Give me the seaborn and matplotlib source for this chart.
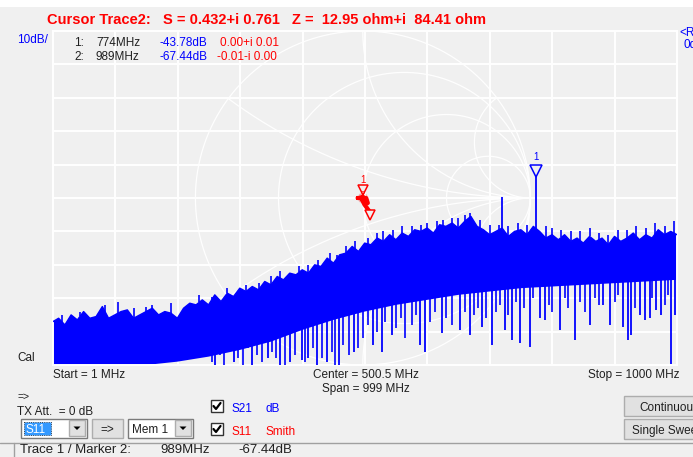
import numpy as np
import pandas as pd
import matplotlib.pyplot as plt
import seaborn as sns
from matplotlib.patches import Rectangle, Polygon

# S21 trace (dB): top of the noisy trace every 10 MHz
freq_mhz = [1] + list(range(10, 1001, 10))
upper_db = [-87, -86, -88, -85, -86.5, -84, -86, -85.5, -82.5, -86,
            -85, -84, -83.5, -86, -85, -84, -83, -85, -84, -84.5,
            -86, -83, -81.5, -82, -80.5, -82, -79, -81, -78.5, -79.5,
            -77, -78, -76.5, -77.5, -75, -76, -73.5, -74.5, -72.5, -73,
            -71.5, -72.5, -70, -70.5, -68, -69.5, -67, -66.5, -64.5, -66,
            -63.5, -64, -62, -63, -61, -62.5, -60.5, -61.5, -59.5, -60,
            -59, -60.5, -58, -58.5, -57.5, -59, -57, -55.5, -58.5, -59.5,
            -61, -60, -59, -61.5, -60, -59.5, -61, -58.5, -60, -62,
            -61, -62.5, -61, -63, -62, -63.5, -61.5, -63, -62, -64,
            -61.5, -63, -62, -60.5, -62.5, -61, -62, -59.5, -61, -60, -61]

# lower edge of the solid part of the trace, every 50 MHz
floor_f = list(range(0, 1001, 50))
floor_db = [-100, -100, -100, -100, -99, -97.5, -95.5, -93, -89.5, -86.5, -84,
            -82, -80.5, -79, -78, -77, -76.5, -76, -75.5, -75, -74.5]

# short peaks above the envelope
peak_f = [15, 45, 85, 105, 130, 150, 160, 190, 235, 255, 280, 310, 330, 350, 365,
          395, 410, 425, 445, 455, 470, 485, 505, 520, 530, 545, 560, 575, 590, 600,
          615, 625, 640, 650, 660, 668, 685, 700, 715, 730, 745, 760, 790, 800, 815,
          830, 845, 860, 875, 890, 905, 920, 935, 950, 965, 980, 995]
peak_db = [-85, -84, -82, -81, -83, -82.5, -82, -81.5, -79, -79.5, -77, -76, -75.5,
           -73.5, -72, -70.5, -70, -68.5, -66.5, -67, -64.5, -63, -62, -60.5, -60,
           -59.5, -58.5, -58.5, -58, -57.5, -57, -56.5, -56, -56, -55, -54.5, -56.5,
           -58, -58, -58.5, -57.5, -58, -58.5, -59, -59.5, -60, -60, -59, -60.5, -61,
           -59.5, -59.5, -58.5, -59, -57.5, -58.5, -57]

# deep dips below the solid part
dip_f = [260, 290, 320, 345, 365, 380, 399, 410, 424, 440, 459, 483, 514, 527,
         543, 588, 597, 624, 652, 668, 688, 704, 724, 736, 749, 764, 780, 788,
         812, 836, 860, 881, 892, 913, 921, 927, 940, 948, 956, 967, 975, 991, 997]
dip_db = [-100, -99, -100, -98, -100, -99, -98.5, -98, -100, -99, -100, -96, -94,
          -96, -91, -94, -96, -90.5, -89.5, -91, -88.5, -94, -89.5, -92.5, -93.5,
          -94.5, -86, -86.5, -89.5, -92.5, -88, -82, -88, -88.5, -92.5, -91, -85,
          -86.5, -86, -83.5, -85, -99.7, -85]

# shorter dips that make the ragged lower edge
short_f = [255, 268, 275, 283, 297, 305, 313, 327, 335, 352, 358, 372, 388, 405,
           417, 432, 447, 452, 466, 475, 490, 498, 505, 520, 533, 550, 558, 565,
           575, 582, 605, 612, 630, 640, 660, 675, 682, 695, 710, 716, 730, 742,
           755, 770, 795, 800, 820, 826, 845, 852, 868, 875, 900, 906, 933, 960, 980, 985]
short_db = [-99, -97, -100, -96, -98, -100, -95, -97, -99, -96, -98, -100, -97, -99,
            -95, -98, -96, -100, -94, -97, -95, -92, -88, -90, -87, -89, -86, -92,
            -88, -85, -87, -84, -86, -88, -84, -85, -83, -86, -84, -82, -85, -81,
            -83, -80, -82, -84, -80, -83, -81, -84, -80, -82, -81, -79, -83, -80, -82, -79]

# single spur and marker 1
spur_f, spur_db = 720, -49.7
m1_f, m1_db = 774, -43.78

# S11 trace (reflection coefficient), all near the centre of the Smith chart
s11_re = [0.00, -0.02, -0.03, -0.02, 0.00, 0.02, 0.03, 0.02, 0.00, -0.01, 0.01, 0.03, 0.04, 0.05]
s11_im = [0.02, 0.02, 0.00, -0.02, -0.03, -0.02, 0.00, 0.02, 0.03, 0.00, -0.04, -0.06, -0.08, -0.09]

BLUE = '#0000ff'
RED = '#ff0000'
BG = '#f0f0f0'

sns.set_theme(style='darkgrid', rc={'axes.facecolor': BG, 'figure.facecolor': BG,
                                    'grid.color': 'white', 'grid.linewidth': 1.4})
plt.rcParams['font.family'] = ['Liberation Sans', 'DejaVu Sans']

fig = plt.figure(figsize=(6.93, 4.57), dpi=100)
ax = fig.add_axes([53 / 693, (457 - 365) / 457, 624 / 693, 334 / 457])
ax.set_xlim(1, 1000)
ax.set_ylim(-100, 0)
ax.set_xticks(np.linspace(1, 1000, 11))
ax.set_yticks(np.arange(-100, 1, 10))
ax.tick_params(labelbottom=False, labelleft=False, length=0)
ax.set_xlabel('')
ax.set_ylabel('')
for s in ax.spines.values():
    s.set_visible(True)
    s.set_color('white')
    s.set_linewidth(1.4)

# Smith chart grid, mapped into the dB plot
cx, cy, rx, ry = 497, -50, 268, 50


def sm(g):
    return cx + rx * g.real, cy + ry * g.imag


t = np.linspace(-np.pi / 2 + 1e-3, np.pi / 2 - 1e-3, 800)
kw = dict(color='white', lw=0.9, alpha=0.95, zorder=1)
for r in [0, 0.33, 1, 3]:
    z = r + 1j * np.tan(t)
    x, y = sm((z - 1) / (z + 1))
    ax.plot(x, y, **kw)
tp = np.linspace(0, np.pi / 2 - 1e-3, 600)
for xr in [0.33, 1, 3, -0.33, -1, -3]:
    z = np.tan(tp) + 1j * xr
    x, y = sm((z - 1) / (z + 1))
    ax.plot(x, y, **kw)

# S21 trace
ax.fill(np.r_[freq_mhz, floor_f[::-1]], np.r_[upper_db, floor_db[::-1]],
        color=BLUE, lw=0, zorder=2)
sns.lineplot(x=freq_mhz, y=upper_db, ax=ax, color=BLUE, lw=1, zorder=3)
ax.vlines(peak_f, np.interp(peak_f, freq_mhz, upper_db), peak_db, color=BLUE, lw=1.2, zorder=3)
ax.vlines(dip_f, dip_db, np.interp(dip_f, floor_f, floor_db) + 2, color=BLUE, lw=1.3, zorder=3)
ax.vlines(short_f, short_db, np.interp(short_f, floor_f, floor_db) + 2, color=BLUE, lw=1.2, zorder=3)
ax.vlines([spur_f, m1_f], [-62, -62], [spur_db, m1_db], color=BLUE, lw=1.3, zorder=3)

# marker 1 on S21
ax.plot(m1_f, m1_db + 1.8, marker='v', ms=8, mfc=BG, mec=BLUE, mew=1.1, zorder=5)
ax.text(m1_f, m1_db + 4.5, '1', color=BLUE, fontsize=7, ha='center', va='bottom', zorder=5)

# S11 trace on the Smith chart
g = np.array(s11_re) + 1j * np.array(s11_im)
sx, sy = sm(g)
sns.lineplot(x=sx, y=sy, ax=ax, sort=False, color=RED, lw=3, zorder=4)
mx, my = sm(np.array([0.0 + 0.045j, 0.04 - 0.10j]))
ax.plot(mx[0], my[0], marker='v', ms=7, mfc=BG, mec=RED, mew=1.1, zorder=5)
ax.plot(mx[1], my[1], marker='v', ms=7, mfc=BG, mec=RED, mew=1.1, zorder=5)
ax.text(mx[0], my[0] + 1.6, '1', color=RED, fontsize=7, ha='center', va='bottom', zorder=5)
ax.text(mx[0], my[0] - 1.2, '2', color=RED, fontsize=5.5, ha='center', va='center', zorder=5)

# window furniture, in pixel coordinates
ui = fig.add_axes([0, 0, 1, 1], facecolor='none')
ui.set_xlim(0, 693)
ui.set_ylim(457, 0)
ui.axis('off')

ui.add_patch(Rectangle((0, 0), 693, 7, color='white', lw=0))

ui.text(47, 24, 'Cursor Trace2:', color=RED, fontsize=10.5, fontweight='bold')
ui.text(163, 24, 'S = 0.432+i 0.761', color=RED, fontsize=10.5, fontweight='bold')
ui.text(292, 24, 'Z =  12.95 ohm+i  84.41 ohm', color=RED, fontsize=10.5, fontweight='bold')

fs = 8.5
ui.text(17, 43, '10dB/', color=BLUE, fontsize=fs)
ui.text(74, 46, '1:', color='#202020', fontsize=fs)
ui.text(96, 46, '774MHz', color='#202020', fontsize=fs)
ui.text(160, 46, '-43.78dB', color=BLUE, fontsize=fs)
ui.text(220, 46, '0.00+i 0.01', color=RED, fontsize=fs)
ui.text(74, 60, '2:', color='#202020', fontsize=fs)
ui.text(96, 60, '989MHz', color='#202020', fontsize=fs)
ui.text(160, 60, '-67.44dB', color=BLUE, fontsize=fs)
ui.text(217, 60, '-0.01-i 0.00', color=RED, fontsize=fs)
ui.text(679, 36, '<Ref', color=BLUE, fontsize=fs)
ui.text(683, 48, '0dB', color=BLUE, fontsize=fs)
ui.text(17, 361, 'Cal', color='#202020', fontsize=fs)

ui.text(53, 378, 'Start = 1 MHz', color='#202020', fontsize=fs)
ui.text(419, 378, 'Center = 500.5 MHz', color='#202020', fontsize=fs, ha='right')
ui.text(410, 392, 'Span = 999 MHz', color='#202020', fontsize=fs, ha='right')
ui.text(679, 378, 'Stop = 1000 MHz', color='#202020', fontsize=fs, ha='right')

ui.text(17, 400, '=>', color='#202020', fontsize=7.5)
ui.text(17, 415, 'TX Att.  = 0 dB', color='#202020', fontsize=fs)


def arrow_btn(x0, y0):
    ui.add_patch(Rectangle((x0, y0), 16, 16, facecolor='#e1e1e1', edgecolor='#adadad', lw=1))
    xc, yc = x0 + 8, y0 + 8
    ui.add_patch(Polygon([(xc - 3.5, yc - 1.5), (xc + 3.5, yc - 1.5), (xc, yc + 2)],
                         color='black', lw=0))


def check_box(x0, y0):
    ui.add_patch(Rectangle((x0, y0), 12, 12, facecolor='white', edgecolor='#333333', lw=1))
    ui.plot([x0 + 2.5, x0 + 5, x0 + 9.5], [y0 + 6, y0 + 9, y0 + 3], color='black', lw=1.6)


# S11 combo
ui.add_patch(Rectangle((21, 419), 66, 19, facecolor='white', edgecolor='#7a7a7a', lw=1))
ui.add_patch(Rectangle((24, 422), 27, 13, facecolor='#3399ff', edgecolor='#1a1a1a', lw=0.6, ls=':'))
ui.text(26, 433, 'S11', color='white', fontsize=fs)
arrow_btn(69, 420)
# => button
ui.add_patch(Rectangle((92, 419), 31, 19, facecolor='#e1e1e1', edgecolor='#adadad', lw=1))
ui.text(107.5, 433, '=>', color='#202020', fontsize=fs, ha='center')
# Mem 1 combo
ui.add_patch(Rectangle((128, 419), 65, 19, facecolor='white', edgecolor='#7a7a7a', lw=1))
ui.text(132, 433, 'Mem 1', color='#202020', fontsize=fs)
arrow_btn(175, 420)

check_box(211, 400)
ui.text(231, 412, 'S21', color=BLUE, fontsize=fs)
ui.text(266, 412, 'dB', color=BLUE, fontsize=fs)
check_box(211, 423)
ui.text(231, 435, 'S11', color=RED, fontsize=fs)
ui.text(266, 435, 'Smith', color=RED, fontsize=fs)

ui.add_patch(Rectangle((624, 396), 80, 20, facecolor='#e1e1e1', edgecolor='#adadad', lw=1))
ui.text(639, 411, 'Continuous', color='#202020', fontsize=fs)
ui.add_patch(Rectangle((624, 419), 80, 20, facecolor='#e1e1e1', edgecolor='#adadad', lw=1))
ui.text(632, 434, 'Single Sweep', color='#202020', fontsize=fs)

# status bar
ui.plot([0, 693], [443, 443], color='#a0a0a0', lw=1)
ui.plot([14, 14], [443, 457], color='#a0a0a0', lw=1)
ui.text(20, 453, 'Trace 1 / Marker 2:', color='#202020', fontsize=9.5)
ui.text(160, 453, '989MHz', color='#202020', fontsize=9.5)
ui.text(238, 453, '-67.44dB', color='#202020', fontsize=9.5)

fig.savefig('out.png', dpi=100, facecolor=BG)
